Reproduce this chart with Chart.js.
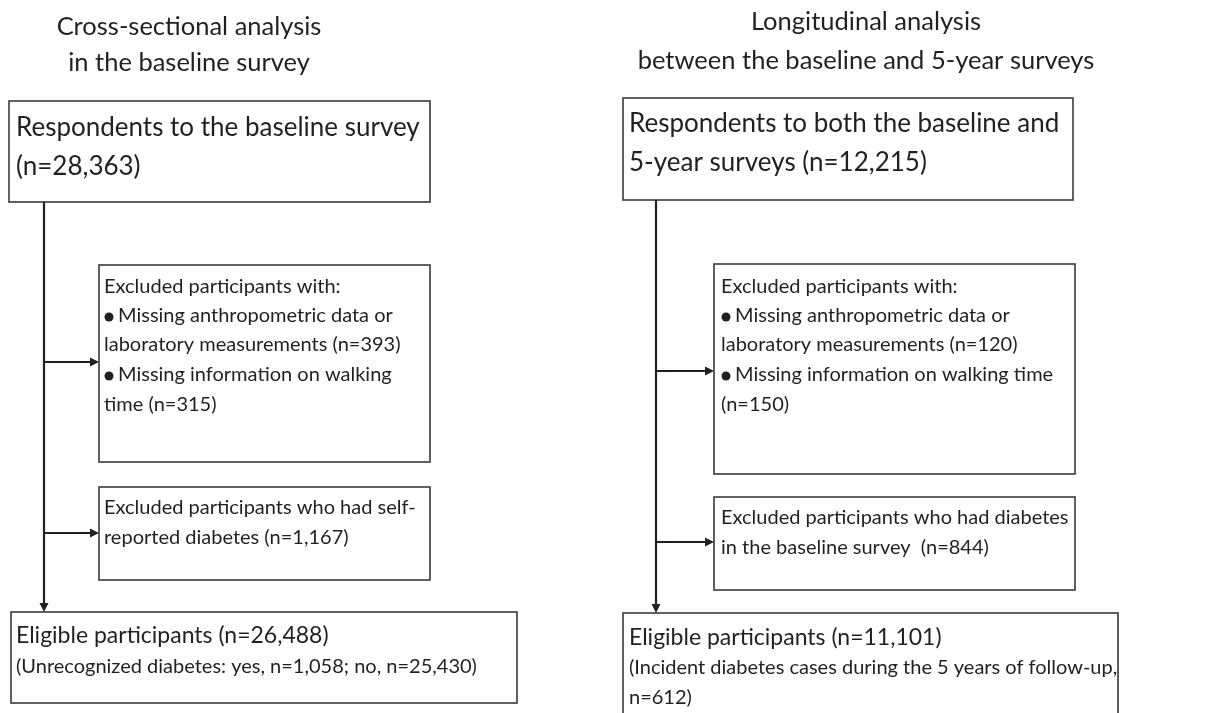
<!DOCTYPE html>
<html>
<head>
<meta charset="utf-8">
<script src="https://cdn.jsdelivr.net/npm/chart.js@4.4.1/dist/chart.umd.min.js"></script>
<style>
  html, body { margin: 0; padding: 0; background: #fff; }
  #flow { display: block; }
</style>
</head>
<body>
<canvas id="flow" width="1205" height="713"></canvas>
<script>
// counts: [cross-sectional, longitudinal]
const respondents = [28363, 12215];
const missingAnthro = [393, 120];
const missingWalking = [315, 150];
const excludedDiabetes = [1167, 844];
const eligible = [26488, 11101];
const unrecognizedYes = 1058;
const unrecognizedNo = 25430;
const incidentCases = 612;

const fmt = v => v.toLocaleString('en-US');

const FONT = 'Lato, "Open Sans", sans-serif';
const INK = '#231f20';

// layout in plot units (same scale as the page)
const panels = [
    {
        title: ['Cross-sectional analysis', 'in the baseline survey'],
        titleX: 189, titleY: [27, 63],
        stemX: 44,
        top: { x0: 9, x1: 430, y0: 101, y1: 202, tx: 16, size: 26, lines: [
            { t: 'Respondents to the baseline survey', y: 128 },
            { t: '(n=' + fmt(respondents[0]) + ')', y: 167 }] },
        excl: [
            { x0: 99, x1: 430, y0: 265, y1: 462, arrowY: 362, tx: 104, size: 20, lines: [
                { t: 'Excluded participants with:', y: 287 },
                { t: '● Missing anthropometric data or', y: 316 },
                { t: 'laboratory measurements (n=' + fmt(missingAnthro[0]) + ')', y: 345 },
                { t: '● Missing information on walking', y: 375 },
                { t: 'time (n=' + fmt(missingWalking[0]) + ')', y: 405 }] },
            { x0: 99, x1: 430, y0: 487, y1: 580, arrowY: 533, tx: 104, size: 20, lines: [
                { t: 'Excluded participants who had self-', y: 508 },
                { t: 'reported diabetes (n=' + fmt(excludedDiabetes[0]) + ')', y: 538 }] }
        ],
        bottom: { x0: 11, x1: 517, y0: 612, y1: 703, tx: 16, lines: [
            { t: 'Eligible participants (n=' + fmt(eligible[0]) + ')', y: 636, size: 23 },
            { t: '(Unrecognized diabetes: yes, n=' + fmt(unrecognizedYes) + '; no, n=' + fmt(unrecognizedNo) + ')', y: 667, size: 20 }] }
    },
    {
        title: ['Longitudinal analysis', 'between the baseline and 5-year surveys'],
        titleX: 866, titleY: [22, 61],
        stemX: 656,
        top: { x0: 623, x1: 1073, y0: 98, y1: 200, tx: 629, size: 26, lines: [
            { t: 'Respondents to both the baseline and', y: 124 },
            { t: '5-year surveys (n=' + fmt(respondents[1]) + ')', y: 163 }] },
        excl: [
            { x0: 714, x1: 1075, y0: 264, y1: 474, arrowY: 371, tx: 721, size: 20, lines: [
                { t: 'Excluded participants with:', y: 287 },
                { t: '● Missing anthropometric data or', y: 316 },
                { t: 'laboratory measurements (n=' + fmt(missingAnthro[1]) + ')', y: 345 },
                { t: '● Missing information on walking time', y: 375 },
                { t: '(n=' + fmt(missingWalking[1]) + ')', y: 405 }] },
            { x0: 714, x1: 1075, y0: 497, y1: 590, arrowY: 542, tx: 721, size: 20, lines: [
                { t: 'Excluded participants who had diabetes', y: 518 },
                { t: 'in the baseline survey  (n=' + fmt(excludedDiabetes[1]) + ')', y: 548 }] }
        ],
        bottom: { x0: 623, x1: 1118, y0: 613, y1: 730, tx: 629, lines: [
            { t: 'Eligible participants (n=' + fmt(eligible[1]) + ')', y: 638, size: 23 },
            { t: '(Incident diabetes cases during the 5 years of follow-up,', y: 668, size: 20 },
            { t: 'n=' + fmt(incidentCases) + ')', y: 698, size: 20 }] }
    }
];

function drawLines(ctx, xs, ys, x, lines, size) {
    lines.forEach(function(l) {
        const s = l.size || size;
        let px = xs.getPixelForValue(x);
        const py = ys.getPixelForValue(l.y);
        let text = l.t;
        if (text.startsWith('●')) {
            ctx.beginPath();
            ctx.arc(px + 5, py + 1, 4.5, 0, Math.PI * 2);
            ctx.fillStyle = INK;
            ctx.fill();
            px += 14;
            text = text.slice(2);
        }
        ctx.font = s + 'px ' + FONT;
        ctx.fillStyle = INK;
        ctx.textAlign = 'left';
        ctx.textBaseline = 'middle';
        ctx.fillText(text, px, py);
    });
}

function drawBox(ctx, xs, ys, b) {
    const x0 = xs.getPixelForValue(b.x0), x1 = xs.getPixelForValue(b.x1);
    const y0 = ys.getPixelForValue(b.y0), y1 = ys.getPixelForValue(b.y1);
    ctx.strokeStyle = '#3a3a3a';
    ctx.lineWidth = 1.6;
    ctx.strokeRect(x0, y0, x1 - x0, y1 - y0);
}

function arrowHead(ctx, x, y, dir) {
    ctx.beginPath();
    if (dir === 'right') {
        ctx.moveTo(x, y);
        ctx.lineTo(x - 9, y - 4.5);
        ctx.lineTo(x - 9, y + 4.5);
    } else {
        ctx.moveTo(x, y);
        ctx.lineTo(x - 4.5, y - 9);
        ctx.lineTo(x + 4.5, y - 9);
    }
    ctx.closePath();
    ctx.fillStyle = INK;
    ctx.fill();
}

const flowPlugin = {
    id: 'flow',
    afterDatasetsDraw(chart) {
        const ctx = chart.ctx;
        const xs = chart.scales.x, ys = chart.scales.y;
        ctx.save();
        panels.forEach(function(p) {
            // titles
            ctx.font = '25.5px ' + FONT;
            ctx.fillStyle = INK;
            ctx.textAlign = 'center';
            ctx.textBaseline = 'middle';
            p.title.forEach(function(t, i) {
                ctx.fillText(t, xs.getPixelForValue(p.titleX), ys.getPixelForValue(p.titleY[i]));
            });

            // boxes
            drawBox(ctx, xs, ys, p.top);
            p.excl.forEach(b => drawBox(ctx, xs, ys, b));
            drawBox(ctx, xs, ys, p.bottom);

            // main stem down to the eligible box
            const sx = xs.getPixelForValue(p.stemX);
            const sTop = ys.getPixelForValue(p.top.y1);
            const sBot = ys.getPixelForValue(p.bottom.y0);
            ctx.strokeStyle = INK;
            ctx.lineWidth = 2.2;
            ctx.beginPath();
            ctx.moveTo(sx, sTop);
            ctx.lineTo(sx, sBot - 8);
            ctx.stroke();
            arrowHead(ctx, sx, sBot, 'down');

            // side arrows to the exclusion boxes
            p.excl.forEach(function(b) {
                const ay = ys.getPixelForValue(b.arrowY);
                const ax = xs.getPixelForValue(b.x0);
                ctx.lineWidth = 2.2;
                ctx.beginPath();
                ctx.moveTo(sx, ay);
                ctx.lineTo(ax - 8, ay);
                ctx.stroke();
                arrowHead(ctx, ax, ay, 'right');
            });

            // texts
            drawLines(ctx, xs, ys, p.top.tx, p.top.lines, p.top.size);
            p.excl.forEach(b => drawLines(ctx, xs, ys, b.tx, b.lines, b.size));
            drawLines(ctx, xs, ys, p.bottom.tx, p.bottom.lines, 20);
        });
        ctx.restore();
    }
};

new Chart(document.getElementById('flow').getContext('2d'), {
    type: 'scatter',
    data: { datasets: [{ data: [] }] },
    options: {
        responsive: false,
        animation: false,
        layout: { padding: 0 },
        plugins: { legend: { display: false }, tooltip: { enabled: false } },
        scales: {
            x: { type: 'linear', min: 0, max: 1205, display: false },
            y: { type: 'linear', min: 0, max: 713, reverse: true, display: false }
        }
    },
    plugins: [flowPlugin]
});
</script>
</body>
</html>
